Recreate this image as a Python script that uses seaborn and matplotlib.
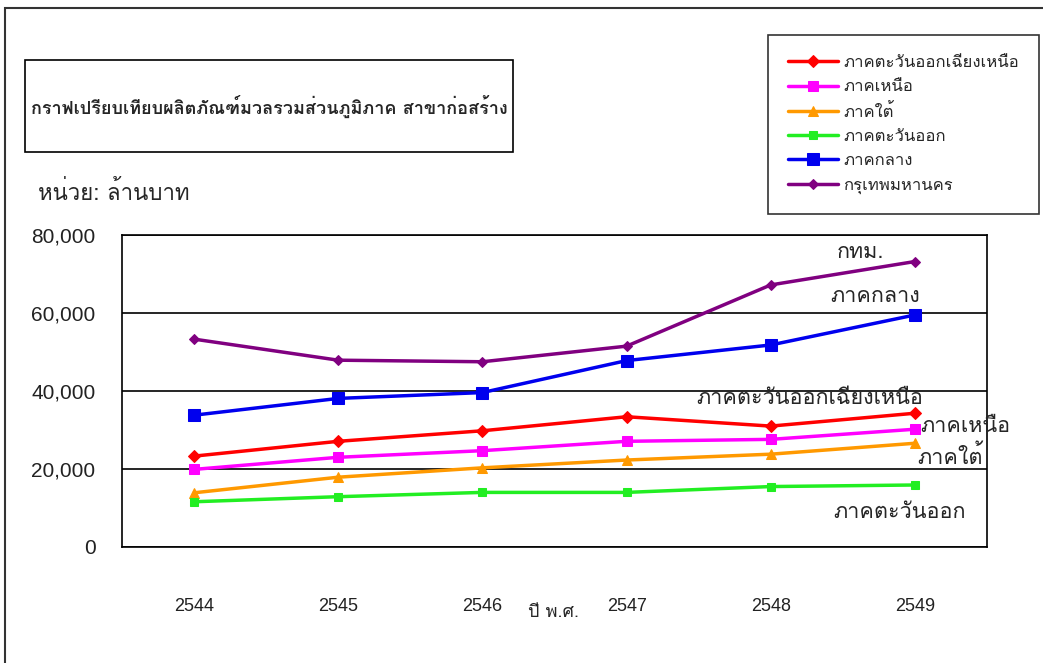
import pandas as pd
import numpy as np
import matplotlib
matplotlib.use('Agg')
import matplotlib.pyplot as plt
import seaborn as sns
from matplotlib import font_manager
from matplotlib.ft2font import FT2Font
from matplotlib.ticker import FuncFormatter
from matplotlib.patches import Rectangle

# === DATA (million baht) ===
YEARS = ['2544', '2545', '2546', '2547', '2548', '2549']
REGIONS = ['ภาคตะวันออกเฉียงเหนือ', 'ภาคเหนือ', 'ภาคใต้', 'ภาคตะวันออก', 'ภาคกลาง', 'กรุเทพมหานคร']
northeast = [23300, 27100, 29800, 33400, 31000, 34300]
north = [19900, 23000, 24700, 27100, 27600, 30200]
south = [13900, 17900, 20300, 22300, 23800, 26600]
east = [11600, 12900, 14000, 14000, 15500, 15900]
central = [33800, 38100, 39600, 47800, 51800, 59500]
bangkok = [53300, 47900, 47500, 51500, 67200, 73200]
END_LABELS = ['ภาคตะวันออกเฉียงเหนือ', 'ภาคเหนือ', 'ภาคใต้', 'ภาคตะวันออก', 'ภาคกลาง', 'กทม.']
TITLE = 'กราฟเปรียบเทียบผลิตภัณฑ์มวลรวมส่วนภูมิภาค สาขาก่อสร้าง'
UNIT = 'หน่วย: ล้านบาท'
XLABEL = 'ปี พ.ศ.'

series = [northeast, north, south, east, central, bangkok]
colors = ['#FF0000', '#FF00FF', '#FF9900', '#22EE22', '#0000EE', '#800080']
markers = ['D', 's', '^', 's', 's', 'D']
msizes = [6, 7, 7, 6, 9, 5]


def find_thai_font():
    # pick any installed font that actually has Thai glyphs
    for f in font_manager.fontManager.ttflist:
        try:
            if 0x0E01 in FT2Font(f.fname).get_charmap():
                return f.name
        except Exception:
            pass
    return None


sns.set_style('white')
thai = find_thai_font()
fams = [thai, 'DejaVu Sans'] if thai else ['DejaVu Sans']
plt.rcParams['font.family'] = fams
NUM_FONT = ['Liberation Sans', 'DejaVu Sans']
NARROW_FONT = ['Liberation Sans Narrow', 'Liberation Sans', 'DejaVu Sans']

W, H = 1043, 663
fig = plt.figure(figsize=(W / 100, H / 100), dpi=100)
ax = fig.add_axes([122 / W, 1 - 547 / H, (987 - 122) / W, (547 - 235) / H])


def fx(px):
    return px / W


def fy(py):
    return 1 - py / H


df = pd.DataFrame({
    'x': np.tile(np.arange(len(YEARS)), len(REGIONS)),
    'value': np.concatenate(series),
    'region': np.repeat(REGIONS, len(YEARS)),
})

for reg, col, mk, ms in zip(REGIONS, colors, markers, msizes):
    sns.lineplot(data=df[df['region'] == reg], x='x', y='value', color=col,
                 marker=mk, markersize=ms, markeredgecolor=col, linewidth=2.5,
                 label=reg, ax=ax)

ax.set_xlim(-0.5, len(YEARS) - 0.5)
ax.set_ylim(0, 80000)
ax.set_yticks([0, 20000, 40000, 60000, 80000])
ax.yaxis.set_major_formatter(FuncFormatter(lambda v, p: f'{int(v):,}'))
ax.set_xticks(range(len(YEARS)))
ax.set_xticklabels(YEARS)
ax.tick_params(axis='y', length=8, width=1.2, pad=11, color='black', labelcolor='#222222')
ax.tick_params(axis='x', length=0, pad=37, labelcolor='#222222')
for t in ax.get_yticklabels():
    t.set_fontfamily(NUM_FONT)
    t.set_fontsize(15)
for t in ax.get_xticklabels():
    t.set_fontfamily(NARROW_FONT)
    t.set_fontsize(13)
ax.yaxis.grid(True, color='black', linewidth=1.2)
for s in ax.spines.values():
    s.set_color('black')
    s.set_linewidth(1.2)
ax.set_xlabel('')
ax.set_ylabel('')

leg = ax.legend(loc='upper left', bbox_to_anchor=(fx(768), fy(35)), bbox_transform=fig.transFigure,
                borderaxespad=0, frameon=True, fancybox=False, edgecolor='black', fontsize=12,
                handlelength=3.0, labelspacing=0.5, borderpad=1.2, handletextpad=0.3)
leg.get_frame().set_linewidth(1.2)

# title box
fig.add_artist(Rectangle((fx(25), fy(152)), fx(513) - fx(25), fy(60) - fy(152),
                         transform=fig.transFigure, fill=False, ec='black', lw=1.2))
fig.text(fx(269), fy(106), TITLE, ha='center', va='center', fontsize=13, fontweight='bold')
fig.text(fx(38), fy(193), UNIT, ha='left', va='center', fontsize=16)
fig.text(fx(553), fy(612), XLABEL, ha='center', va='center', fontsize=13)

# outer chart frame
fig.add_artist(Rectangle((fx(5), -0.2), 1.2, fy(8) + 0.2, transform=fig.transFigure,
                         fill=False, ec='#333333', lw=1.5))

# end-of-line labels
label_pos = [(810, 398), (965, 427), (950, 457), (900, 513), (875, 297), (860, 252)]
for txt, (px, py) in zip(END_LABELS, label_pos):
    fig.text(fx(px), fy(py), txt, ha='center', va='center', fontsize=15.5)

plt.savefig('out.png', dpi=100)
